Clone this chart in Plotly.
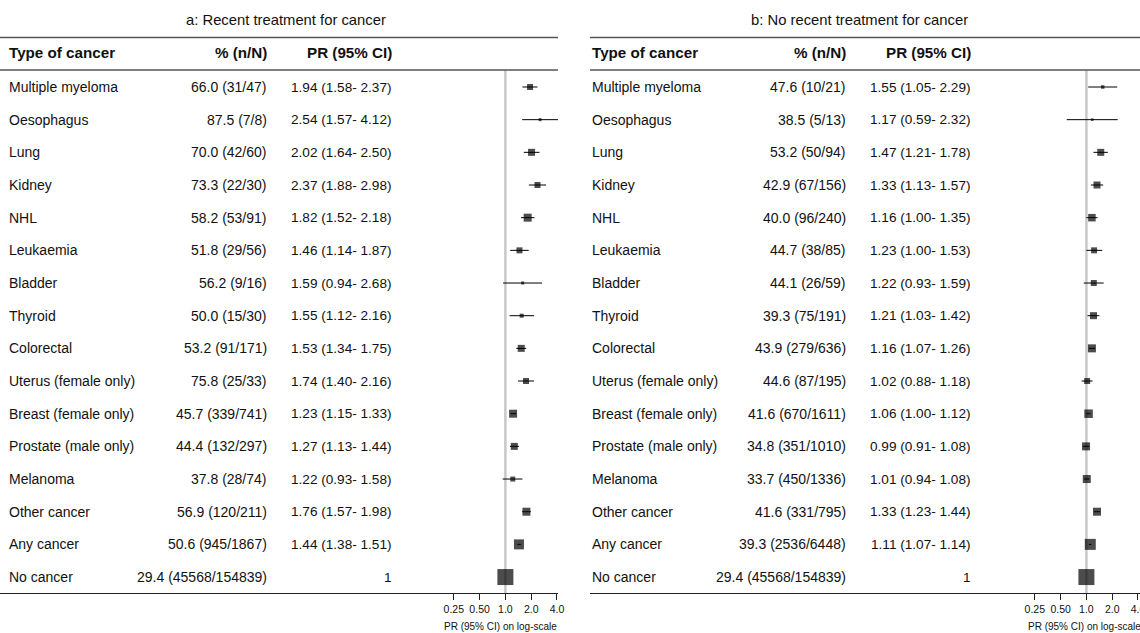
import math
import plotly.graph_objects as go

# ---------------- data ----------------
categories = ["Multiple myeloma", "Oesophagus", "Lung", "Kidney", "NHL", "Leukaemia",
              "Bladder", "Thyroid", "Colorectal", "Uterus (female only)",
              "Breast (female only)", "Prostate (male only)", "Melanoma",
              "Other cancer", "Any cancer", "No cancer"]

# panel a: recent treatment
a_pct = [66.0, 87.5, 70.0, 73.3, 58.2, 51.8, 56.2, 50.0, 53.2, 75.8, 45.7, 44.4, 37.8, 56.9, 50.6, 29.4]
a_n = [31, 7, 42, 22, 53, 29, 9, 15, 91, 25, 339, 132, 28, 120, 945, 45568]
a_N = [47, 8, 60, 30, 91, 56, 16, 30, 171, 33, 741, 297, 74, 211, 1867, 154839]
a_pr = [1.94, 2.54, 2.02, 2.37, 1.82, 1.46, 1.59, 1.55, 1.53, 1.74, 1.23, 1.27, 1.22, 1.76, 1.44, 1]
a_lo = [1.58, 1.57, 1.64, 1.88, 1.52, 1.14, 0.94, 1.12, 1.34, 1.40, 1.15, 1.13, 0.93, 1.57, 1.38, None]
a_hi = [2.37, 4.12, 2.50, 2.98, 2.18, 1.87, 2.68, 2.16, 1.75, 2.16, 1.33, 1.44, 1.58, 1.98, 1.51, None]

# panel b: no recent treatment
b_pct = [47.6, 38.5, 53.2, 42.9, 40.0, 44.7, 44.1, 39.3, 43.9, 44.6, 41.6, 34.8, 33.7, 41.6, 39.3, 29.4]
b_n = [10, 5, 50, 67, 96, 38, 26, 75, 279, 87, 670, 351, 450, 331, 2536, 45568]
b_N = [21, 13, 94, 156, 240, 85, 59, 191, 636, 195, 1611, 1010, 1336, 795, 6448, 154839]
b_pr = [1.55, 1.17, 1.47, 1.33, 1.16, 1.23, 1.22, 1.21, 1.16, 1.02, 1.06, 0.99, 1.01, 1.33, 1.11, 1]
b_lo = [1.05, 0.59, 1.21, 1.13, 1.00, 1.00, 0.93, 1.03, 1.07, 0.88, 1.00, 0.91, 0.94, 1.23, 1.07, None]
b_hi = [2.29, 2.32, 1.78, 1.57, 1.35, 1.53, 1.59, 1.42, 1.26, 1.18, 1.12, 1.08, 1.08, 1.44, 1.14, None]

tick_vals = [0.25, 0.5, 1.0, 2.0, 4.0]
tick_text = ["0.25", "0.50", "1.0", "2.0", "4.0"]

panel_titles = ["a: Recent treatment for cancer", "b: No recent treatment for cancer"]
col_headers = ["Type of cancer", "% (n/N)", "PR (95% CI)"]
axis_label = "PR (95% CI) on log-scale"

# ---------------- style ----------------
W, H = 1140, 633          # target picture size (coordinates below are in these pixels)
FIG_W = 1148              # figure width
FONT = "Liberation Sans, Arial, sans-serif"
BODY = 14
PR_SIZE = 13.6
a_box = [6, 3, 7, 6, 8, 6, 3, 4, 7, 6, 8, 7, 5, 8, 10, 16]
b_box = [3.5, 2.5, 7, 7, 7.5, 6, 6, 7, 8, 6, 8.5, 8, 8, 8, 11, 16]


def px(x):
    return x / W


def py(y):
    return 1 - y / H


row0, row_step = 87.0, 32.67
axis_y = 593.0
y_range = [(axis_y - row0) / row_step, -row0 / row_step]
DEC_PER_PX = math.log10(2) / 25.75

panels = [
    dict(pct=a_pct, n=a_n, N=a_N, pr=a_pr, lo=a_lo, hi=a_hi, box=a_box, xa="x", ya="y",
         left=0, right=557, one=504.5, name_x=9, pct_x=267, pr_x=391, title_x=285, lab_x=500),
    dict(pct=b_pct, n=b_n, N=b_N, pr=b_pr, lo=b_lo, hi=b_hi, box=b_box, xa="x2", ya="y2",
         left=589, right=1140, one=1084.5, name_x=591, pct_x=845, pr_x=969, title_x=858, lab_x=1083),
]

fig = go.Figure()
annotations = []
shapes = []


def txt(x, y, text, anchor, size, yref="paper"):
    return dict(x=x, y=y, xref="paper", yref=yref, text=text, xanchor=anchor,
                yanchor="middle", showarrow=False, borderpad=0, borderwidth=0,
                font=dict(size=size, color="#111", family=FONT))


for k, p in enumerate(panels):
    plus = [(h - v) if h is not None else 0 for v, h in zip(p["pr"], p["hi"])]
    minus = [(v - l) if l is not None else 0 for v, l in zip(p["pr"], p["lo"])]
    fig.add_trace(go.Scatter(
        x=p["pr"], y=list(range(len(categories))), mode="markers",
        marker=dict(symbol="square", size=p["box"], color="black", line=dict(width=0)),
        error_x=dict(type="data", symmetric=False, array=plus, arrayminus=minus,
                     color="black", thickness=1, width=0),
        xaxis=p["xa"], yaxis=p["ya"], showlegend=False, hoverinfo="skip"))

    for i, c in enumerate(categories):
        if p["lo"][i] is None:
            prtxt = f"{p['pr'][i]:g}"
        else:
            prtxt = f"{p['pr'][i]:.2f} ({p['lo'][i]:.2f}- {p['hi'][i]:.2f})"
        annotations.append(txt(px(p["name_x"]), i, c, "left", BODY, p["ya"]))
        annotations.append(txt(px(p["pct_x"]), i, f"{p['pct'][i]:.1f} ({p['n'][i]}/{p['N'][i]})",
                               "right", BODY, p["ya"]))
        annotations.append(txt(px(p["pr_x"]), i, prtxt, "right", PR_SIZE, p["ya"]))

    annotations.append(txt(px(p["name_x"]), py(53), "<b>" + col_headers[0] + "</b>", "left", 15.2))
    annotations.append(txt(px(p["pct_x"]), py(53), "<b>" + col_headers[1] + "</b>", "right", 15.2))
    annotations.append(txt(px(p["pr_x"]), py(53), "<b>" + col_headers[2] + "</b>", "right", 15.2))
    annotations.append(txt(px(p["title_x"]), py(20), panel_titles[k], "center", 14.8))
    annotations.append(txt(px(p["lab_x"]), py(626), axis_label, "center", 10))

    for yy in (37.5, 70):
        shapes.append(dict(type="line", xref="paper", yref="paper",
                           x0=px(p["left"]), x1=px(p["right"]), y0=py(yy), y1=py(yy),
                           line=dict(color="#555", width=1.3)))
    shapes.append(dict(type="line", xref=p["xa"], yref="paper", x0=1, x1=1,
                       y0=py(axis_y), y1=py(70), layer="below",
                       line=dict(color="#c8c8c8", width=2.5)))

    xr = [-(p["one"] - p["left"]) * DEC_PER_PX, (p["right"] - p["one"]) * DEC_PER_PX]
    axis = dict(type="log", domain=[px(p["left"]), px(p["right"])], range=xr,
                showgrid=False, zeroline=False, showline=True, linecolor="#222", linewidth=1,
                ticks="outside", ticklen=6, tickcolor="#222", tickwidth=1,
                tickvals=tick_vals, ticktext=tick_text,
                tickfont=dict(size=10.5, color="#111", family=FONT),
                anchor=p["ya"], fixedrange=True)
    yaxis = dict(domain=[py(axis_y), 1], range=y_range, visible=False,
                 anchor=p["xa"], fixedrange=True)
    if k == 0:
        fig.update_layout(xaxis=axis, yaxis=yaxis)
    else:
        fig.update_layout(xaxis2=axis, yaxis2=yaxis)

fig.update_layout(width=FIG_W, height=H, margin=dict(l=0, r=0, t=0, b=0),
                  paper_bgcolor="white", plot_bgcolor="white",
                  annotations=annotations, shapes=shapes,
                  font=dict(family=FONT, color="#111"))

fig.write_html("out.html", config={"displayModeBar": False, "staticPlot": True},
               post_script="document.body.style.margin='0';document.body.style.overflow='hidden';")
